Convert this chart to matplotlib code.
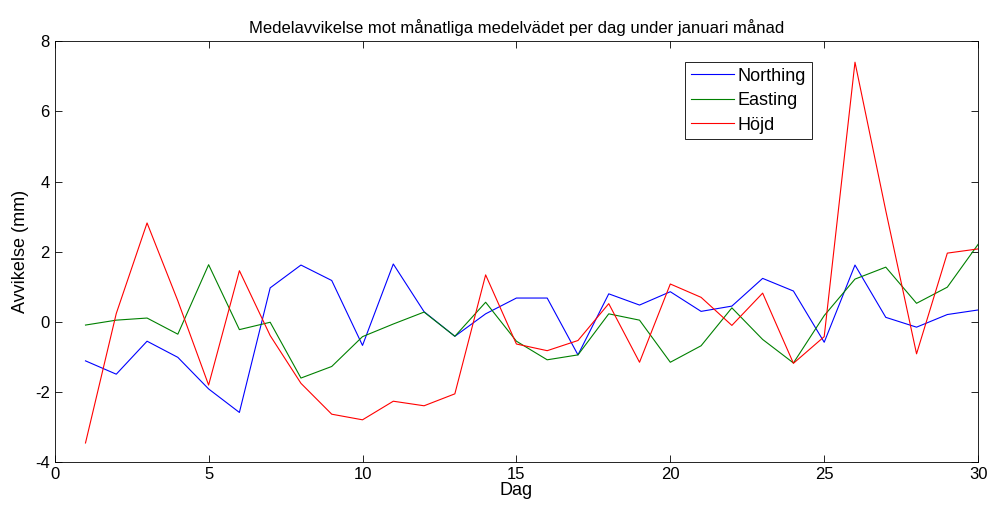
import numpy as np
import matplotlib.pyplot as plt

plt.rcParams['font.family'] = ['Liberation Sans', 'DejaVu Sans']
plt.rcParams['axes.unicode_minus'] = False

dag = np.arange(1, 31)

northing = [-1.11, -1.49, -0.55, -1.01, -1.91, -2.58, 0.97, 1.62, 1.18, -0.67,
            1.65, 0.29, -0.41, 0.23, 0.68, 0.68, -0.94, 0.80, 0.48, 0.86,
            0.30, 0.45, 1.24, 0.88, -0.58, 1.62, 0.13, -0.15, 0.21, 0.34]
easting = [-0.09, 0.05, 0.11, -0.35, 1.63, -0.22, -0.01, -1.60, -1.27, -0.42,
           -0.06, 0.28, -0.41, 0.56, -0.55, -1.08, -0.94, 0.23, 0.05, -1.15,
           -0.68, 0.40, -0.50, -1.17, 0.18, 1.22, 1.56, 0.53, 0.99, 2.21]
hojd = [-3.45, 0.24, 2.82, 0.60, -1.80, 1.46, -0.39, -1.75, -2.63, -2.79,
        -2.26, -2.39, -2.05, 1.34, -0.63, -0.82, -0.53, 0.52, -1.15, 1.08,
        0.70, -0.10, 0.82, -1.18, -0.42, 7.40, 3.17, -0.91, 1.96, 2.08]

fig = plt.figure(figsize=(9.93, 5.08), dpi=100)
ax = fig.add_axes([0.0551, 0.090, 0.9299, 0.829])

ax.plot(dag, northing, color=(0, 0, 1), lw=0.8, label="Northing")
ax.plot(dag, easting, color=(0, 0.5, 0), lw=0.8, label="Easting")
ax.plot(dag, hojd, color=(1, 0, 0), lw=0.8, label="Höjd")

ax.set_xlim(0, 30)
ax.set_ylim(-4, 8)
ax.set_xticks(range(0, 31, 5))
ax.set_yticks(range(-4, 9, 2))
ax.tick_params(direction='in', top=True, right=True, labelsize=12, length=5, width=0.6)
for s in ax.spines.values():
    s.set_linewidth(0.6)

ax.set_title("Medelavvikelse mot månatliga medelvädet per dag under januari månad", fontsize=12)
ax.set_xlabel("Dag", fontsize=13, labelpad=0)
ax.set_ylabel("Avvikelse (mm)", fontsize=13)

leg = ax.legend(loc='upper left', bbox_to_anchor=(0.683, 0.950), borderaxespad=0,
                fontsize=13, fancybox=False, framealpha=1, edgecolor='black',
                handlelength=2.4, borderpad=0.3, labelspacing=0.42, handletextpad=0.2)
leg.get_frame().set_linewidth(0.6)

plt.savefig("out.png", dpi=100)
